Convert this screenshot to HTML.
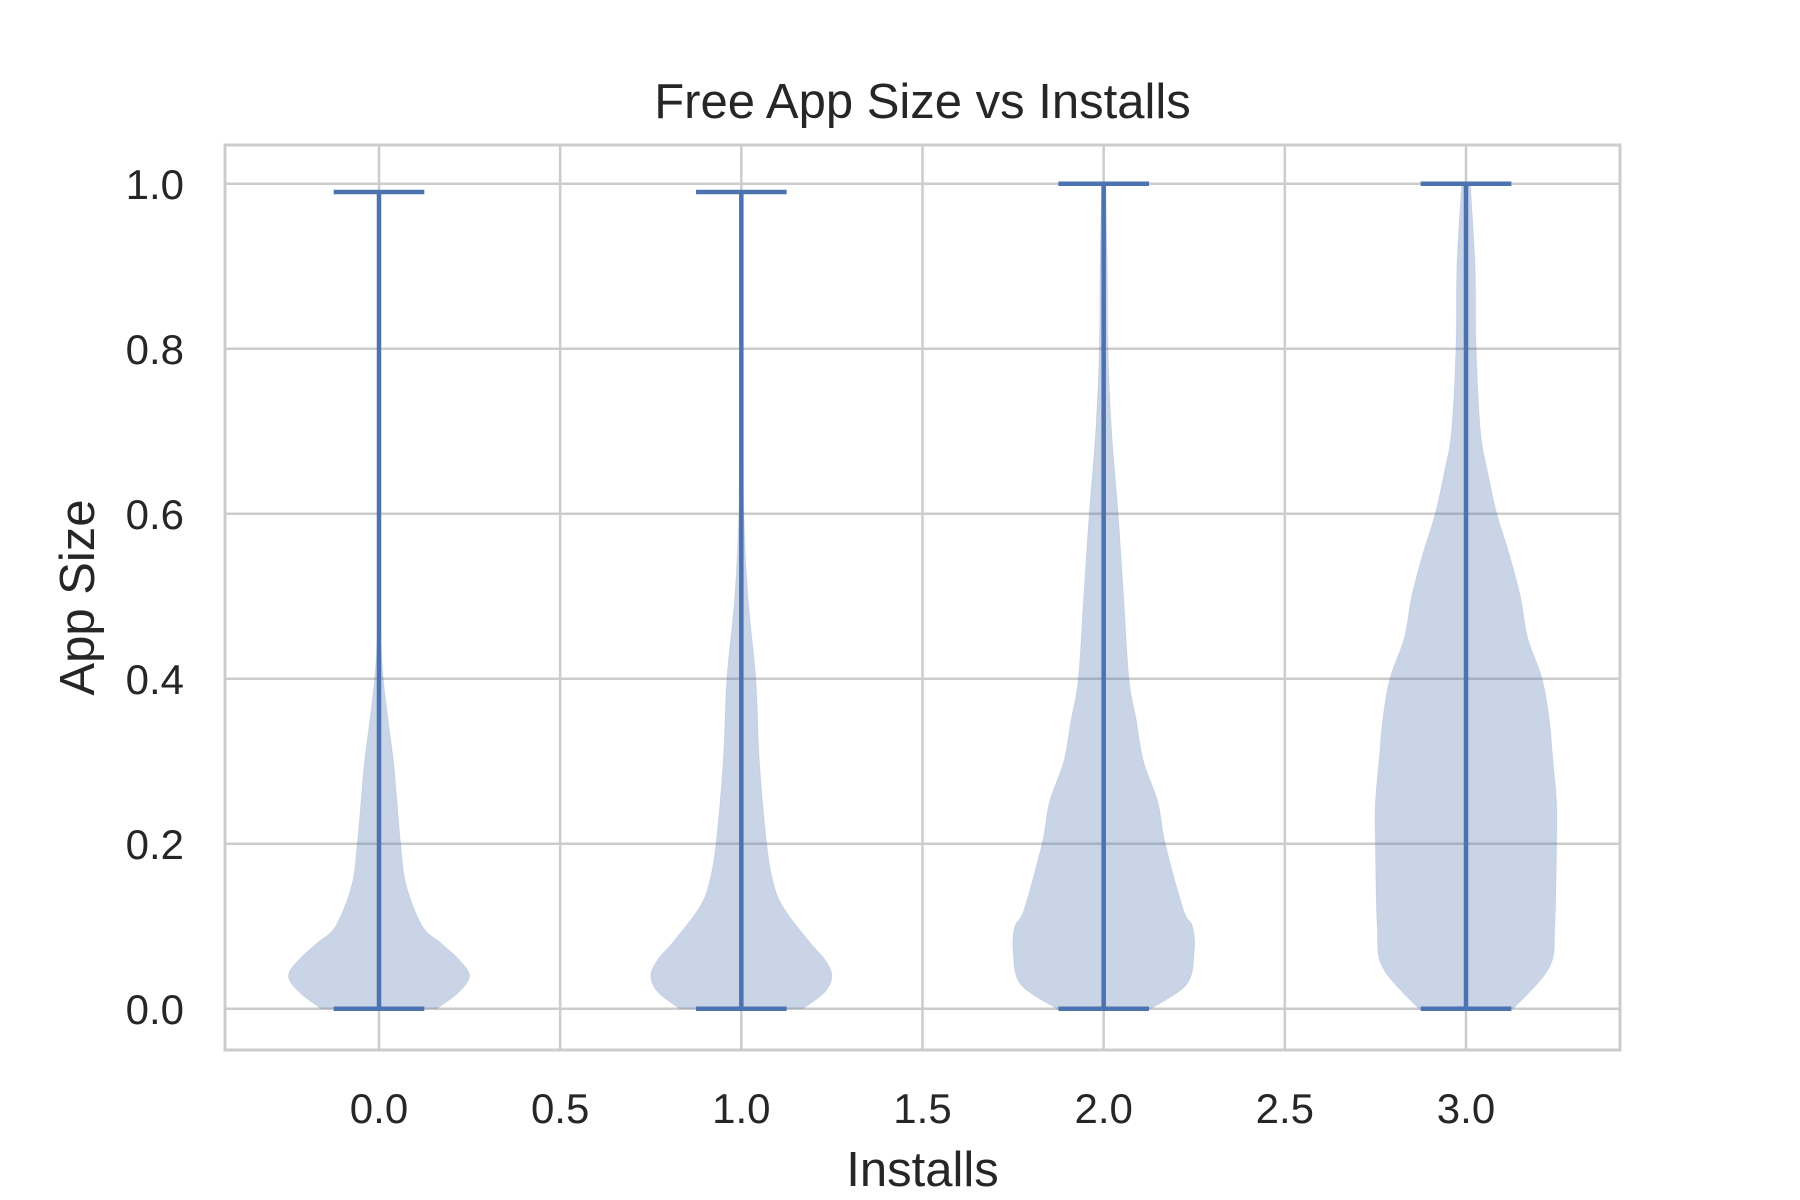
<!DOCTYPE html>
<html><head><meta charset="utf-8"><style>
html,body{margin:0;padding:0;background:#fff}
svg{display:block;font-family:"Liberation Sans",Arial,sans-serif}
</style></head><body>
<svg id="chart" width="1800" height="1200" viewBox="0 0 1800 1200"></svg>
<script>
const categories=[0,1,2,3];
const maxValues=[0.99,0.99,1.0,1.0];
const minValues=[0,0,0,0];
const profileY0=[0,0.02,0.04,0.06,0.08,0.10,0.15,0.2,0.25,0.3,0.35,0.4,0.45,0.5,0.6,0.7,0.8,0.9,0.99];
const profileW0=[0.16,0.22,0.25,0.22,0.17,0.12,0.075,0.06,0.05,0.04,0.025,0.012,0.005,0.003,0.002,0.002,0.002,0.002,0.002];
const profileY1=[0,0.02,0.04,0.06,0.08,0.12,0.15,0.2,0.3,0.4,0.5,0.6,0.7,0.8,0.9,0.99];
const profileW1=[0.17,0.23,0.25,0.23,0.19,0.12,0.09,0.07,0.05,0.04,0.018,0.007,0.004,0.003,0.003,0.003];
const profileY2=[0,0.03,0.07,0.1,0.12,0.2,0.25,0.3,0.35,0.4,0.5,0.6,0.7,0.8,0.9,1.0];
const profileW2=[0.13,0.23,0.25,0.245,0.22,0.17,0.15,0.11,0.09,0.07,0.055,0.04,0.022,0.012,0.01,0.006];
const profileY3=[0,0.05,0.1,0.2,0.25,0.3,0.35,0.4,0.45,0.5,0.55,0.6,0.65,0.7,0.8,0.9,1.0];
const profileW3=[0.13,0.23,0.245,0.25,0.25,0.24,0.23,0.21,0.17,0.15,0.12,0.085,0.06,0.04,0.028,0.025,0.012];
const xTicks=[0,0.5,1,1.5,2,2.5,3];
const xTickLabels=["0.0","0.5","1.0","1.5","2.0","2.5","3.0"];
const yTicks=[0,0.2,0.4,0.6,0.8,1.0];
const yTickLabels=["0.0","0.2","0.4","0.6","0.8","1.0"];

const L=225,R=1620,T=145,B=1050;
const xMin=-0.425,xMax=3.425,yMin=-0.05,yMax=1.047;
const sx=v=>L+(v-xMin)/(xMax-xMin)*(R-L);
const sy=v=>B-(v-yMin)/(yMax-yMin)*(B-T);
const NS="http://www.w3.org/2000/svg";
const svg=document.getElementById('chart');
function mk(tag,attrs,parent){const e=document.createElementNS(NS,tag);for(const k in attrs)e.setAttribute(k,attrs[k]);(parent||svg).appendChild(e);return e;}
function smooth(pts){
  let d='M'+pts[0][0].toFixed(1)+','+pts[0][1].toFixed(1);
  for(let i=0;i<pts.length-1;i++){
    const p0=pts[Math.max(0,i-1)],p1=pts[i],p2=pts[i+1],p3=pts[Math.min(pts.length-1,i+2)];
    const c1=[p1[0]+(p2[0]-p0[0])/6,p1[1]+(p2[1]-p0[1])/6];
    const c2=[p2[0]-(p3[0]-p1[0])/6,p2[1]-(p3[1]-p1[1])/6];
    d+='C'+c1[0].toFixed(1)+','+c1[1].toFixed(1)+' '+c2[0].toFixed(1)+','+c2[1].toFixed(1)+' '+p2[0].toFixed(1)+','+p2[1].toFixed(1);
  }
  return d;
}

xTicks.forEach((t,i)=>{const g=mk('line',{x1:sx(t),x2:sx(t),y1:T,y2:B,stroke:'#cccccc','stroke-width':2.5});

});
yTicks.forEach((t,i)=>{const g=mk('line',{x1:L,x2:R,y1:sy(t),y2:sy(t),stroke:'#cccccc','stroke-width':2.5});

});

const profiles=[[profileY0,profileW0],[profileY1,profileW1],[profileY2,profileW2],[profileY3,profileW3]];
categories.forEach((c,i)=>{
  const [ys,ws]=profiles[i];
  let right=[],left=[];
  for(let j=0;j<ys.length;j++)right.push([sx(c+ws[j]),sy(ys[j])]);
  for(let j=ys.length-1;j>=0;j--)left.push([sx(c-ws[j]),sy(ys[j])]);
  const d=smooth(right)+'L'+smooth(left).slice(1)+'Z';
  const p=mk('path',{d:d,fill:'#4c72b0','fill-opacity':0.3,stroke:'#4c72b0','stroke-opacity':0.1,'stroke-linejoin':'round'});
  
  
  const v=mk('line',{x1:sx(c),x2:sx(c),y1:sy(minValues[i]),y2:sy(maxValues[i]),stroke:'#4c72b0','stroke-width':4.5});
  
  
  const a=mk('line',{x1:sx(c-0.125),x2:sx(c+0.125),y1:sy(maxValues[i]),y2:sy(maxValues[i]),stroke:'#4c72b0','stroke-width':4.5});
  
  
  const b=mk('line',{x1:sx(c-0.125),x2:sx(c+0.125),y1:sy(minValues[i]),y2:sy(minValues[i]),stroke:'#4c72b0','stroke-width':4.5});
  
  
});

const frame=mk('rect',{x:L,y:T,width:R-L,height:B-T,fill:'none',stroke:'#cccccc','stroke-width':3});



xTicks.forEach((t,i)=>{const e=mk('text',{x:sx(t),y:1123,'text-anchor':'middle','font-size':42,fill:'#262626'});e.textContent=xTickLabels[i];

});
yTicks.forEach((t,i)=>{const e=mk('text',{x:184,y:sy(t)+15,'text-anchor':'end','font-size':42,fill:'#262626'});e.textContent=yTickLabels[i];

});

const title=mk('text',{x:(L+R)/2,y:118,'text-anchor':'middle','font-size':49,fill:'#262626'});title.textContent='Free App Size vs Installs';


const xl=mk('text',{x:(L+R)/2,y:1186,'text-anchor':'middle','font-size':49,fill:'#262626'});xl.textContent='Installs';


const yl=mk('text',{x:0,y:0,'text-anchor':'middle','font-size':49,fill:'#262626',transform:'translate(94,'+((T+B)/2)+') rotate(-90)'});yl.textContent='App Size';


</script>
</body></html>
